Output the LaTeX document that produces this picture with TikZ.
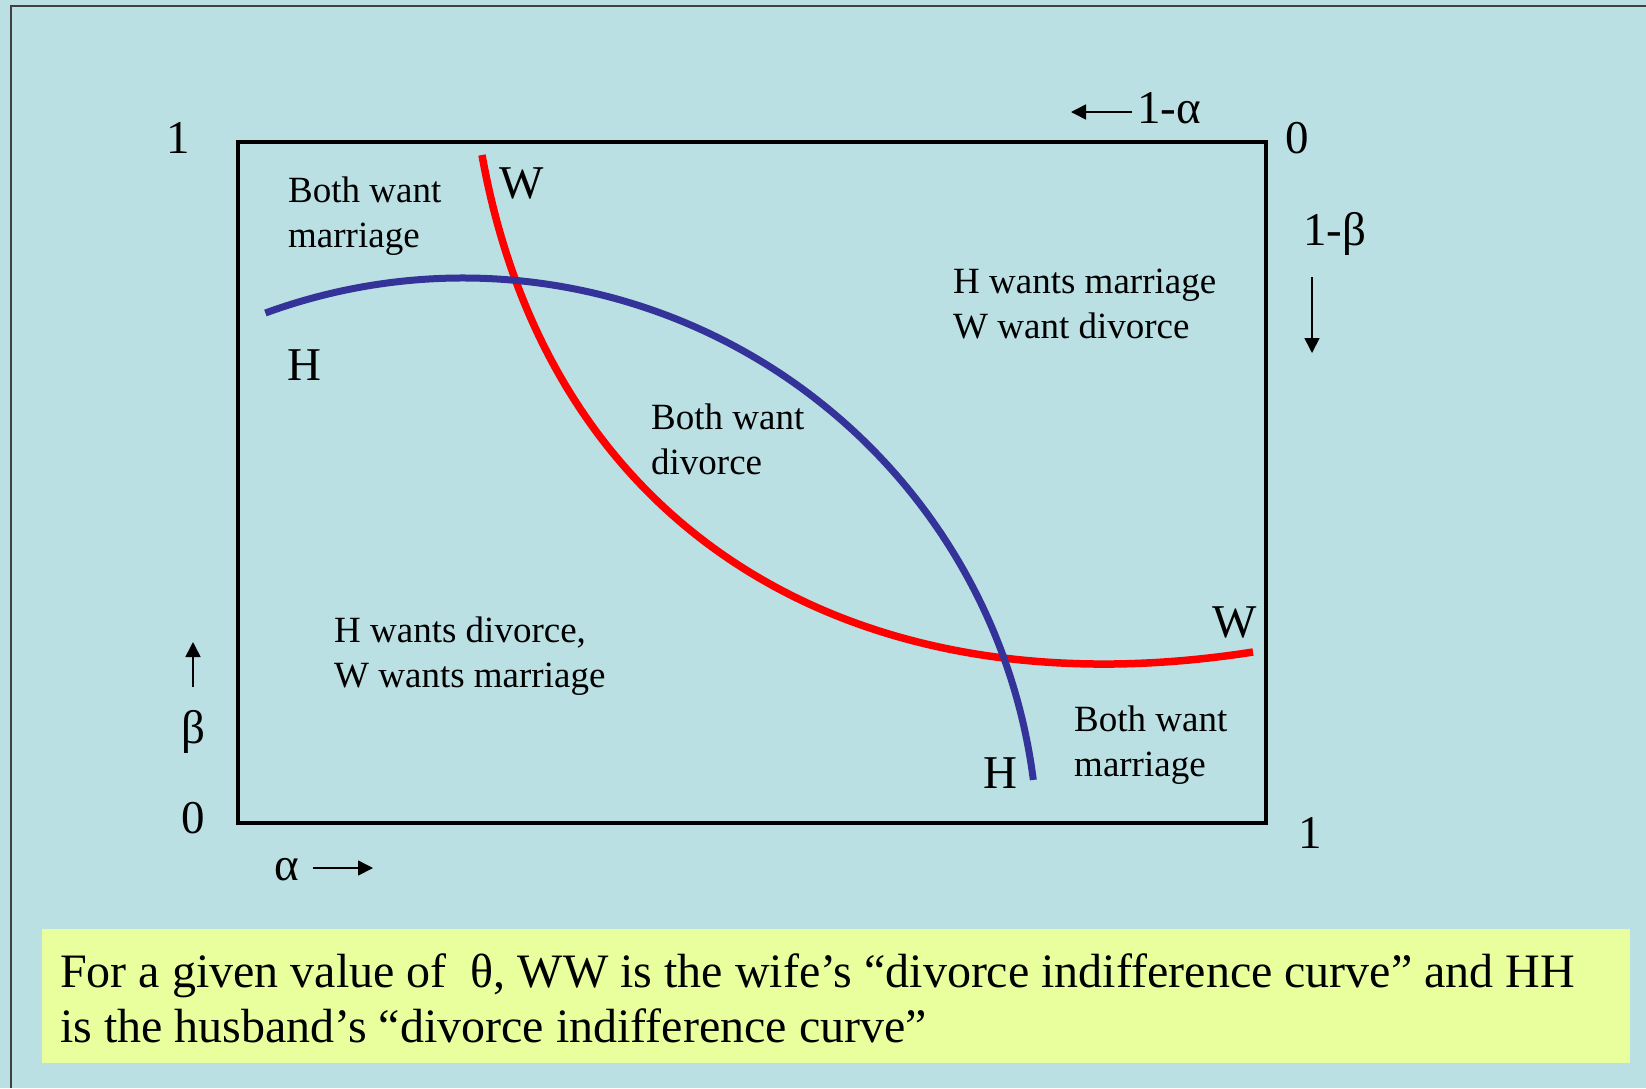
\documentclass[tikz,border=0pt]{standalone}
\usepackage{fontspec}
\setmainfont{Liberation Serif}
\usetikzlibrary{arrows.meta,positioning}
\definecolor{PanelBlue}{RGB}{186,224,227}
\definecolor{NoteYellow}{RGB}{233,255,158}
\definecolor{HusbandBlue}{RGB}{51,51,153}
\definecolor{WifeRed}{RGB}{255,0,0}
\tikzset{
	region/.style={align=left, inner sep=0pt, anchor=base west, font=\fontsize{37}{44.5}\selectfont},
	biglabel/.style={inner sep=0pt, anchor=base, font=\fontsize{47}{52}\selectfont},
	axisarrow/.style={line width=1.6pt, -{Triangle[length=15pt,width=15pt]}},
}
\begin{document}
\begin{tikzpicture}[x=1pt, y=-1pt]
		\useasboundingbox (0,0) rectangle (1646,1088);
		\fill[PanelBlue] (0,0) rectangle (1646,1088);
		\draw[line width=2pt, black!75] (11,1088) -- (11,6) -- (1646,6);
		
		% unit square
		\draw[line width=4.5pt] (238,142) rectangle (1266,823);
		
		\coordinate (Wstart) at (482,155);
		\coordinate (Wend) at (1253,652);
		\coordinate (Hstart) at (265.4,313);
		
		% wife's curve WW
		\draw[WifeRed, line width=7.5pt] (Wstart) .. controls (550,535) and (858,714) .. (Wend);
		% husband's curve HH, arc about (463,853)
		\draw[HusbandBlue, line width=7pt] (Hstart) arc[start angle=-110.1, end angle=-7.3, radius=575];
		
		\node[biglabel] (Wtop) at (522,198) {W};
		\node[biglabel] (Hleft) at (304,380) {H};
		\node[biglabel] (Wright) at (1235,637) {W};
		\node[biglabel] (Hbottom) at (1000,788) {H};
		
		% base anchor sits on the last line
		\node[region] (bothmarryTL) at (288,247) {Both want\\marriage};
		\node[region] (hmarry) at (953,338) {H wants marriage\\W want divorce};
		\node[region] (bothdivorce) at (651,474) {Both want\\divorce};
		\node[region] (hdivorce) at (334,687) {H wants divorce,\\W wants marriage};
		\node[region] (bothmarryBR) at (1074,776) {Both want\\marriage};
		
		% corner values and axes
		\node[biglabel] (oneTL) at (178,153) {1};
		\node[biglabel] (zeroTR) at (1297,153) {0};
		\node[biglabel] (zeroBL) at (193,833) {0};
		\node[biglabel] (oneBR) at (1310,848) {1};
		\node[biglabel, anchor=base west] (oneminusalpha) at (1137,123) {1-α};
		\node[biglabel, anchor=base west] (oneminusbeta) at (1303,245) {1-β};
		\node[biglabel] (beta) at (193,743) {β};
		\node[biglabel] (alpha) at (287,880) {α};
		
		\coordinate (topTail) at (1132,112);
		\coordinate (topTip) at (1071,112);
		\coordinate (rightTail) at (1312,277);
		\coordinate (rightTip) at (1312,353);
		\coordinate (upTail) at (193,687);
		\coordinate (upTip) at (193,642);
		\coordinate (alphaTail) at (313,868);
		\coordinate (alphaTip) at (373,868);
		\draw[axisarrow] (topTail) -- (topTip);
		\draw[axisarrow] (rightTail) -- (rightTip);
		\draw[axisarrow] (upTail) -- (upTip);
		\draw[axisarrow] (alphaTail) -- (alphaTip);
		
		% note
		\fill[NoteYellow] (42,929) rectangle (1630,1063);
		\node[inner sep=0pt, anchor=base west, align=left, font=\fontsize{48}{55}\selectfont] (note) at (60,1042) {For a given value of \ θ, WW is the wife’s “divorce indifference curve” and HH\\is the husband’s “divorce indifference curve”};
	\end{tikzpicture}
\end{document}
